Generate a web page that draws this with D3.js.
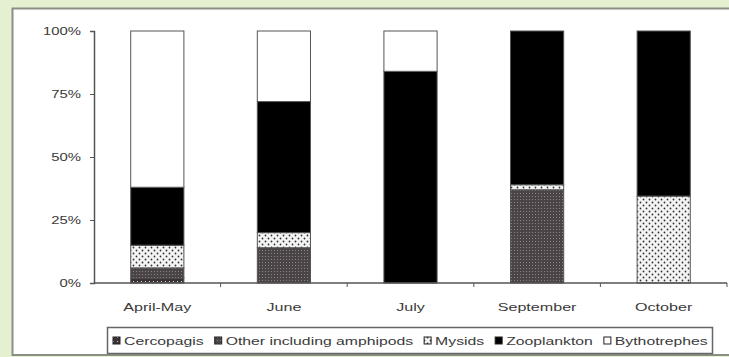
<!DOCTYPE html>
<html>
<head>
<meta charset="utf-8">
<script src="https://cdn.jsdelivr.net/npm/d3@7"></script>
<style>
  html, body { margin: 0; padding: 0; }
  body { width: 729px; height: 357px; overflow: hidden; background: #e4f0cf; }
  svg { display: block; }
  text { font-family: "Liberation Sans", Arial, sans-serif; fill: #3a3a3a; }
</style>
</head>
<body>
<svg id="chart" width="729" height="357"></svg>
<script>
// Diet composition by month (percent of total)
const categories = ["April-May", "June", "July", "September", "October"];
const seriesNames = ["Cercopagis", "Other including amphipods", "Mysids", "Zooplankton", "Bythotrephes"];
const cercopagis   = [2, 0, 0, 0, 0];
const other        = [4, 14, 0, 37, 0];
const mysids       = [9, 6, 0, 2, 34.5];
const zooplankton  = [23, 52, 84, 61, 65.5];
const bythotrephes = [62, 28, 16, 0, 0];
const yTicks = [0, 25, 50, 75, 100];
const yTickLabels = ["0%", "25%", "50%", "75%", "100%"];

const seriesValues = [cercopagis, other, mysids, zooplankton, bythotrephes];
const keys = ["cercopagis", "other", "mysids", "zooplankton", "bythotrephes"];
const rows = categories.map((c, i) => {
  const r = { category: c };
  keys.forEach((k, j) => r[k] = seriesValues[j][i]);
  return r;
});

const svg = d3.select("#chart");
const defs = svg.append("defs");

// fill patterns for the hatched series
const pCerc = defs.append("pattern").attr("id", "p-cerc").attr("patternUnits", "userSpaceOnUse")
  .attr("width", 4).attr("height", 4);
pCerc.append("rect").attr("width", 4).attr("height", 4).attr("fill", "#3a3234");
pCerc.append("rect").attr("x", 1).attr("y", 1).attr("width", 1).attr("height", 1).attr("fill", "#cfcfcf");

const pOther = defs.append("pattern").attr("id", "p-other").attr("patternUnits", "userSpaceOnUse")
  .attr("width", 3).attr("height", 3);
pOther.append("rect").attr("width", 3).attr("height", 3).attr("fill", "#4a4446");
pOther.append("rect").attr("x", 1).attr("y", 1).attr("width", 1).attr("height", 1).attr("fill", "#8a8486");

const pMys = defs.append("pattern").attr("id", "p-mys").attr("patternUnits", "userSpaceOnUse")
  .attr("width", 6).attr("height", 6);
pMys.append("rect").attr("width", 6).attr("height", 6).attr("fill", "#f4f4f4");
pMys.append("circle").attr("cx", 1.5).attr("cy", 1.5).attr("r", 0.9).attr("fill", "#333");
pMys.append("circle").attr("cx", 4.5).attr("cy", 4.5).attr("r", 0.9).attr("fill", "#333");

const fills = {
  cercopagis: "url(#p-cerc)",
  other: "url(#p-other)",
  mysids: "url(#p-mys)",
  zooplankton: "#000",
  bythotrephes: "#fff"
};

// chart frame
svg.append("rect").attr("x", 12.5).attr("y", 8.5).attr("width", 730).attr("height", 346.5)
  .attr("fill", "#fff").attr("stroke", "#8a8f86").attr("stroke-width", 2);

const x = d3.scaleBand().domain(categories).range([94, 727]).paddingInner(0.58).paddingOuter(0.29);
const y = d3.scaleLinear().domain([0, 100]).range([283, 31]);

const stack = d3.stack().keys(keys);
const layers = stack(rows);

const g = svg.append("g");
g.selectAll("g.layer").data(layers).join("g")
  .attr("class", "layer")
  .attr("fill", d => fills[d.key])
  .selectAll("rect").data(d => d.filter(s => s[1] - s[0] > 0)).join("rect")
  .attr("x", d => x(d.data.category))
  .attr("width", x.bandwidth())
  .attr("y", d => y(d[1]))
  .attr("height", d => y(d[0]) - y(d[1]))
  .attr("stroke", "#555")
  .attr("stroke-width", 1);

// horizontally stretched text helper
function stretch(sel, k) {
  sel.each(function () {
    const w = this.getComputedTextLength();
    d3.select(this).attr("textLength", w * k).attr("lengthAdjust", "spacingAndGlyphs");
  });
}

// y axis
const yAxis = svg.append("g").attr("transform", "translate(94,0)")
  .call(d3.axisLeft(y).tickValues(yTicks).tickFormat((d, i) => yTickLabels[i]).tickSize(4).tickPadding(9));
yAxis.select(".domain").attr("stroke", "#555").attr("stroke-width", 1.5);
yAxis.selectAll(".tick line").attr("stroke", "#555");
yAxis.selectAll(".tick text").attr("font-size", 11).attr("font-family", "Liberation Sans, Arial, sans-serif")
  .attr("fill", "#3a3a3a").call(stretch, 1.35);

// x axis: ticks on category boundaries
const bounds = categories.map(c => x(c) - x.step() * x.paddingInner() / 2).concat([727]);
const xAxis = svg.append("g");
xAxis.append("line").attr("x1", 94).attr("x2", 727).attr("y1", 283).attr("y2", 283)
  .attr("stroke", "#555").attr("stroke-width", 1.5);
xAxis.selectAll("line.tick").data(bounds.slice(1)).join("line").attr("class", "tick")
  .attr("x1", d => d).attr("x2", d => d).attr("y1", 283).attr("y2", 287).attr("stroke", "#555");
xAxis.selectAll("text").data(categories).join("text")
  .attr("x", d => x(d) + x.bandwidth() / 2)
  .attr("y", 311)
  .attr("text-anchor", "middle")
  .attr("font-size", 11.5)
  .text(d => d)
  .call(stretch, 1.4);

// legend
const legend = svg.append("g");
legend.append("rect").attr("x", 107.5).attr("y", 327.5).attr("width", 605).attr("height", 26)
  .attr("fill", "#fff").attr("stroke", "#666").attr("stroke-width", 1.5);
let lx = 113;
keys.forEach((k, i) => {
  legend.append("rect").attr("x", lx).attr("y", 337).attr("width", 7).attr("height", 7)
    .attr("fill", fills[k]).attr("stroke", "#222").attr("stroke-width", 1);
  const t = legend.append("text").attr("x", lx + 11).attr("y", 345).attr("font-size", 11.5)
    .text(seriesNames[i]).call(stretch, 1.37);
  lx += 11 + +t.attr("textLength") + 11;
});
</script>
</body>
</html>
